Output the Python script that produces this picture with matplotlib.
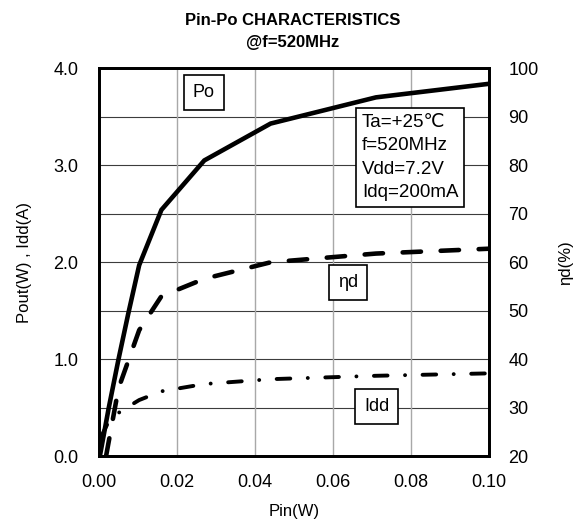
import matplotlib
matplotlib.use("Agg")
import matplotlib.pyplot as plt

plt.rcParams["font.family"] = ["Liberation Sans", "DejaVu Sans"]

# Pout (W) vs Pin (W)
pin_po = [0.0003, 0.0025, 0.005, 0.0075, 0.0103, 0.016, 0.027, 0.044, 0.071, 0.1]
po = [0.02, 0.5, 1.0, 1.47, 1.97, 2.54, 3.05, 3.43, 3.70, 3.84]

# drain efficiency (%)
pin_eta = [0.0018, 0.005, 0.0103, 0.016, 0.027, 0.044, 0.071, 0.1]
eta = [20, 34, 46, 53, 56.6, 60, 61.8, 62.8]

# drain current (A)
pin_idd = [0.0005, 0.0025, 0.0054, 0.0103, 0.016, 0.027, 0.044, 0.071, 0.1]
idd = [0.2, 0.36, 0.46, 0.58, 0.67, 0.745, 0.795, 0.83, 0.855]

cond_text = "Ta=+25\u2103\nf=520MHz\nVdd=7.2V\nIdq=200mA"

fig = plt.figure(figsize=(5.81, 5.26), dpi=100)
ax = fig.add_axes([0.1704, 0.1325, 0.6713, 0.7377])
ax2 = ax.twinx()

ax.set_xlim(0, 0.1)
ax.set_ylim(0, 4)
ax2.set_ylim(20, 100)

# grid
for y in [0.5 * i for i in range(1, 8)]:
    ax.axhline(y, color="#3c3c3c", lw=0.8, zorder=1)
for x in [0.02, 0.04, 0.06, 0.08]:
    ax.axvline(x, color="#a8a8a8", lw=1.0, zorder=1)

ax.plot(pin_po, po, color="black", lw=3.3, solid_joinstyle="miter", zorder=3)
ax.plot(pin_idd, idd, color="black", lw=2.8, dashes=(3.5, 4.5, 0.01, 4.5),
        dash_capstyle="round", zorder=3)
ax2.plot(pin_eta, eta, color="black", lw=3.3, dashes=(4.0, 4.3),
         dash_capstyle="round", zorder=3)

ax.set_xticks([0, 0.02, 0.04, 0.06, 0.08, 0.1])
ax.set_xticklabels(["0.00", "0.02", "0.04", "0.06", "0.08", "0.10"])
ax.set_yticks([0, 1, 2, 3, 4])
ax.set_yticklabels(["0.0", "1.0", "2.0", "3.0", "4.0"])
ax2.set_yticks(range(20, 101, 10))

for a in (ax, ax2):
    a.tick_params(length=0, labelsize=13, pad=15)
    for s in a.spines.values():
        s.set_linewidth(2.0)
ax.tick_params(axis="x", pad=13)
ax2.tick_params(axis="y", pad=14)

ax.set_xlabel("Pin(W)", fontsize=12, labelpad=9)
ax.set_ylabel("Pout(W) , Idd(A)", fontsize=12, labelpad=15)
ax2.set_ylabel("\u03b7d(%)", fontsize=12, labelpad=14)

fig.suptitle("Pin-Po CHARACTERISTICS\n@f=520MHz", fontsize=12, fontweight="bold",
             x=0.503, y=0.975, linespacing=1.55)

box = dict(boxstyle="square,pad=0.5", fc="white", ec="black", lw=1.2)
ax.text(0.0269, 3.75, "Po", fontsize=13, ha="center", va="center", bbox=box, zorder=4)
ax.text(0.0638, 1.79, "\u03b7d", fontsize=13, ha="center", va="center", bbox=box, zorder=4)
ax.text(0.0712, 0.51, "Idd", fontsize=13, ha="center", va="center", bbox=box, zorder=4)
ax.text(0.0674, 3.08, cond_text, fontsize=13.5, ha="left", va="center", linespacing=1.5,
        bbox=dict(boxstyle="square,pad=0.3", fc="white", ec="black", lw=1.2), zorder=4)

fig.savefig("out.png", dpi=100)
